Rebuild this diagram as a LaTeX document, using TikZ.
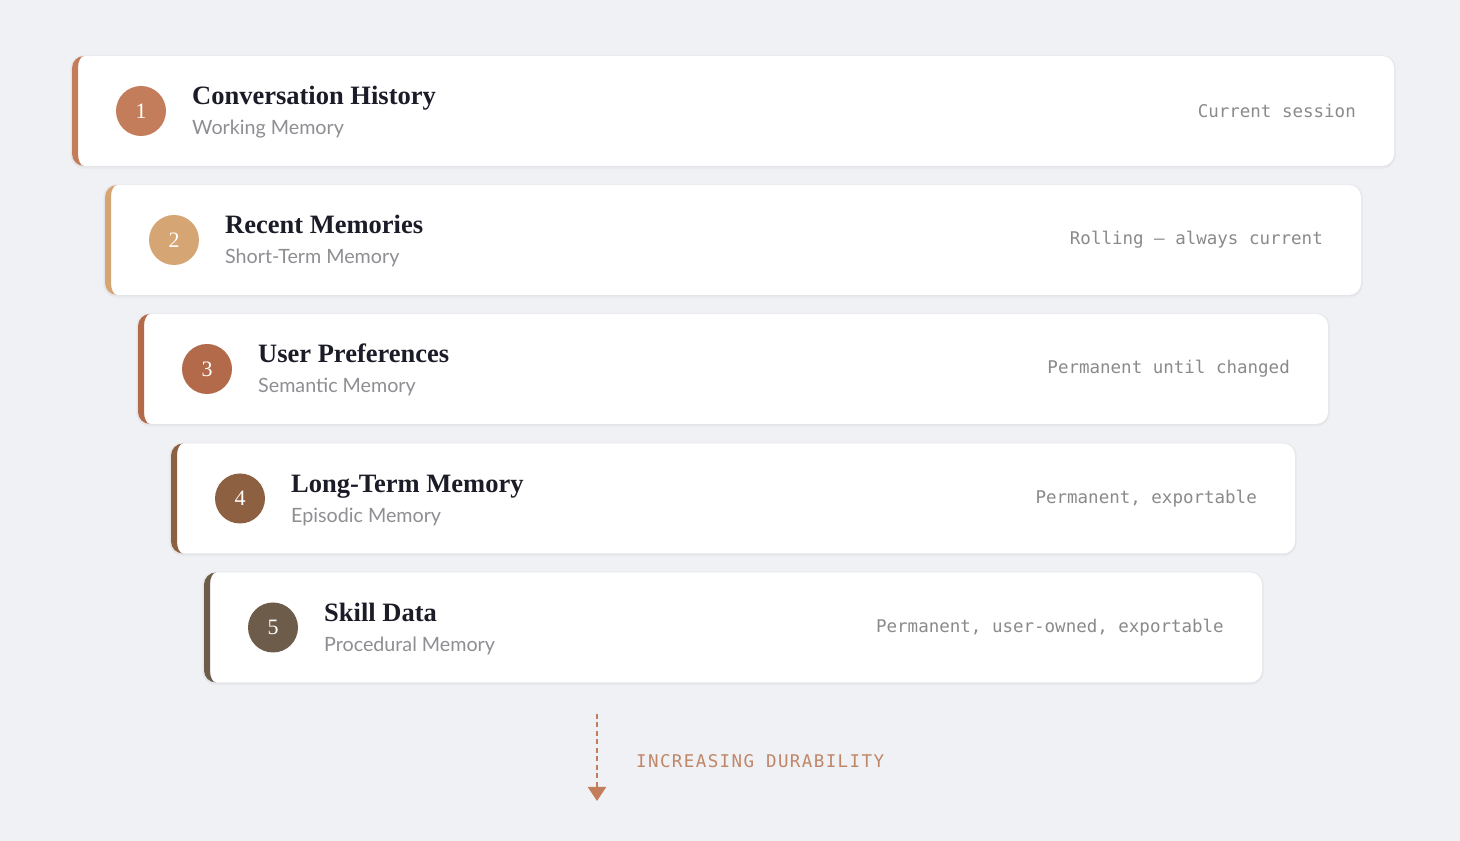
\documentclass[tikz,border=0pt]{standalone}
\usepackage{fontspec}
\usetikzlibrary{arrows.meta}
\newfontfamily\titlefont{Liberation Serif}
\newfontfamily\subfont{Lato}
\newfontfamily\monofont{DejaVu Sans Mono}
\newfontfamily\labelfont{DejaVu Sans Mono}[LetterSpace=8]
\definecolor{bgc}{HTML}{F0F1F5}
\definecolor{cA}{HTML}{C47D5A}
\definecolor{cB}{HTML}{D5A574}
\definecolor{cC}{HTML}{B26A4A}
\definecolor{cD}{HTML}{8C6040}
\definecolor{cE}{HTML}{6E5C4B}
\definecolor{titlec}{HTML}{1C1C28}
\definecolor{subc}{HTML}{8E8E93}
\definecolor{monoc}{HTML}{8A8A8A}
\definecolor{labelc}{HTML}{C08668}
\tikzset{
  titletext/.style={anchor=base west, inner sep=0pt, font=\titlefont\bfseries\fontsize{26.5}{30}\selectfont, text=titlec},
  subtext/.style={anchor=base west, inner sep=0pt, font=\subfont\fontsize{19.7}{24}\selectfont, text=subc},
  righttext/.style={anchor=east, inner sep=0pt, font=\monofont\fontsize{17.5}{22}\selectfont, text=monoc},
  numcircle/.style={circle, minimum size=50pt, inner sep=0pt, text=white, font=\titlefont\fontsize{22}{24}\selectfont},
  cardbody/.style={fill=white, rounded corners=12pt},
  cardshadow/.style={fill=black, opacity=0.025, rounded corners=13pt},
}
% #1 index, #2 left, #3 right, #4 top, #5 colour, #6 title, #7 subtitle, #8 right text
\newcommand\memcard[8]{%
  \pgfmathsetmacro\cL{#2}\pgfmathsetmacro\cR{#3}\pgfmathsetmacro\cT{#4}%
  \pgfmathsetmacro\cB{#4-110}\pgfmathsetmacro\cM{#4-55}%
  \fill[cardshadow] (\cL-1,\cB-3) rectangle (\cR+1,\cT);
  \fill[cardshadow] (\cL-2,\cB-1.5) rectangle (\cR+2,\cT+1);
  \fill[cardbody] (\cL,\cB) rectangle (\cR,\cT);
  \fill[#5] (\cL+12,\cT) arc[start angle=90,end angle=180,radius=12]
    -- (\cL,\cB+12) arc[start angle=180,end angle=270,radius=12]
    arc[start angle=270,end angle=180,x radius=6,y radius=12]
    -- (\cL+6,\cT-12) arc[start angle=180,end angle=90,x radius=6,y radius=12] -- cycle;
  \node[numcircle, fill=#5] (n#1) at (\cL+69,\cM) {#1};
  \node[titletext] (t#1) at (\cL+120,\cM+6) {#6};
  \node[subtext] (s#1) at (\cL+120,\cM-24) {#7};
  \node[righttext] (r#1) at (\cR-38,\cM) {#8};
}
\begin{document}
\begin{tikzpicture}[x=1pt,y=1pt]
\useasboundingbox (0,0) rectangle (1460,841);
\fill[bgc] (0,0) rectangle (1460,841);
\memcard{1}{72}{1394}{785}{cA}{Conversation History}{Working Memory}{Current session}
\memcard{2}{105}{1361}{656}{cB}{Recent Memories}{Short-Term Memory}{Rolling — always current}
\memcard{3}{138}{1328}{527}{cC}{User Preferences}{Semantic Memory}{Permanent until changed}
\memcard{4}{171}{1295}{397.5}{cD}{Long-Term Memory}{Episodic Memory}{Permanent, exportable}
\memcard{5}{204}{1262}{268.5}{cE}{Skill Data}{Procedural Memory}{Permanent, user-owned, exportable}
\coordinate (arrowtop) at (597,127);
\coordinate (arrowend) at (597,40);
\draw[cA, line width=2pt, dash pattern=on 5pt off 3.5pt, -{Triangle[width=18pt,length=14pt]}] (arrowtop) -- (arrowend);
\node[anchor=west, inner sep=0pt, font=\labelfont\fontsize{17.5}{22}\selectfont, text=labelc] (durability) at (636,80) {INCREASING DURABILITY};
\end{tikzpicture}
\end{document}
